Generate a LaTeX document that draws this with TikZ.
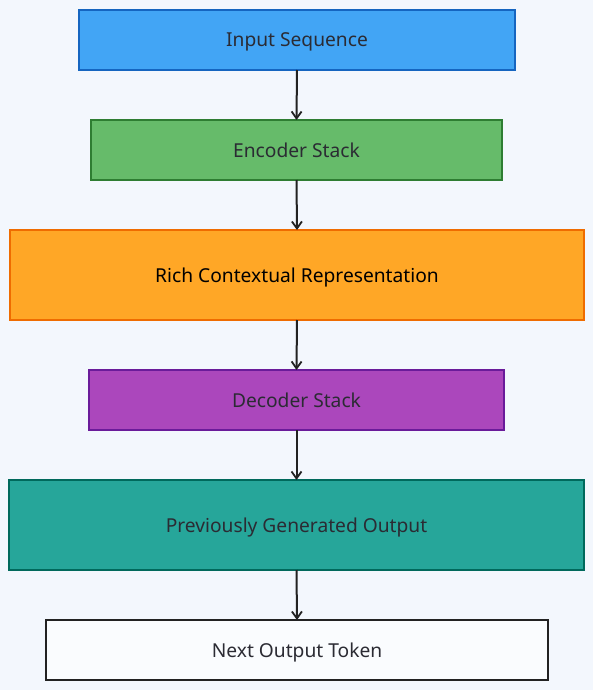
\documentclass[tikz,border=0pt]{standalone}
\usepackage{fontspec}
\setmainfont{Noto Sans}
\usetikzlibrary{arrows.meta}
\definecolor{bg}{HTML}{F3F7FD}
\definecolor{txt}{HTML}{2B2B33}
\definecolor{bluef}{HTML}{42A5F5}\definecolor{blued}{HTML}{1565C0}
\definecolor{greenf}{HTML}{66BB6A}\definecolor{greend}{HTML}{2E7D32}
\definecolor{orangef}{HTML}{FFA726}\definecolor{oranged}{HTML}{EF6C00}
\definecolor{purplef}{HTML}{AB47BC}\definecolor{purpled}{HTML}{6A1B9A}
\definecolor{tealf}{HTML}{26A69A}\definecolor{teald}{HTML}{00695C}
\definecolor{dark}{HTML}{222222}
\newcommand{\lbl}[1]{\raisebox{-7pt}[0pt][0pt]{#1}}
\begin{document}
\begin{tikzpicture}[x=1pt,y=-1pt,
  box/.style={draw, line width=2pt, inner sep=0pt, outer sep=0pt, font=\fontsize{19.2}{22}\selectfont, text=txt},
  conn/.style={draw=dark, line width=2pt, -{Straight Barb[length=7pt,width=10pt,line width=1.8pt]}}]
\fill[bg] (0,0) rectangle (593,690);
\useasboundingbox (0,0) rectangle (593,690);
\node[box, fill=bluef, draw=blued, minimum width=436pt, minimum height=60pt] (in) at (297,40) {\lbl{Input Sequence}};
\node[box, fill=greenf, draw=greend, minimum width=411pt, minimum height=60pt] (enc) at (296.5,150) {\lbl{Encoder Stack}};
\node[box, fill=orangef, draw=oranged, minimum width=574pt, minimum height=90pt, text=black] (rich) at (297,275) {\lbl{Rich Contextual Representation}};
\node[box, fill=purplef, draw=purpled, minimum width=415pt, minimum height=60pt] (dec) at (296.5,400) {\lbl{Decoder Stack}};
\node[box, fill=tealf, draw=teald, minimum width=575pt, minimum height=90pt] (prev) at (296.5,525) {\lbl{Previously Generated Output}};
\node[box, fill=white!60!bg, draw=dark, minimum width=502pt, minimum height=60pt] (next) at (297,650) {\lbl{Next Output Token}};
\draw[conn] (in.south) -- (enc.north);
\draw[conn] (enc.south) -- (rich.north);
\draw[conn] (rich.south) -- (dec.north);
\draw[conn] (dec.south) -- (prev.north);
\draw[conn] (prev.south) -- (next.north);
\end{tikzpicture}
\end{document}
